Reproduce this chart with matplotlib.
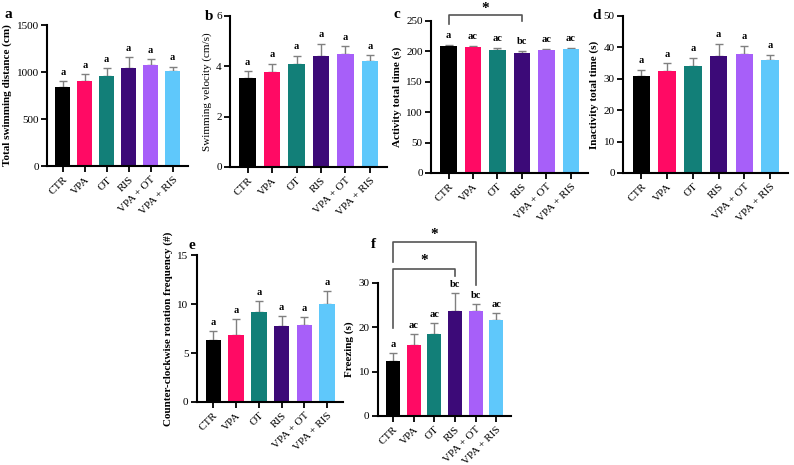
import numpy as np
import matplotlib
matplotlib.use("Agg")
import matplotlib.pyplot as plt

plt.rcParams['font.family'] = ['Liberation Serif', 'DejaVu Serif']

groups = ["CTR", "VPA", "OT", "RIS", "VPA + OT", "VPA + RIS"]
colors = ["#000000", "#ff0a64", "#127f78", "#3c0a78", "#a75ff9", "#5fc8fb"]

dist_mean = [845, 903, 958, 1047, 1072, 1008]
dist_err = [58, 75, 82, 115, 70, 50]
dist_sig = ["a", "a", "a", "a", "a", "a"]

vel_mean = [3.54, 3.77, 4.07, 4.40, 4.49, 4.22]
vel_err = [0.25, 0.33, 0.34, 0.48, 0.30, 0.22]
vel_sig = ["a", "a", "a", "a", "a", "a"]

act_mean = [209, 207, 203, 198, 202, 204.5]
act_err = [1.5, 2.0, 2.6, 2.7, 2.5, 1.5]
act_sig = ["a", "ac", "ac", "bc", "ac", "ac"]

inact_mean = [30.7, 32.4, 34.0, 37.2, 37.9, 35.9]
inact_err = [2.0, 2.5, 2.7, 3.9, 2.6, 1.7]
inact_sig = ["a", "a", "a", "a", "a", "a"]

rot_mean = [6.28, 6.85, 9.18, 7.78, 7.85, 10.0]
rot_err = [0.95, 1.6, 1.1, 1.0, 0.8, 1.33]
rot_sig = ["a", "a", "a", "a", "a", "a"]

frz_mean = [12.3, 16.1, 18.5, 23.6, 23.6, 21.6]
frz_err = [2.0, 2.5, 2.5, 4.1, 1.7, 1.6]
frz_sig = ["a", "ac", "ac", "bc", "bc", "ac"]

fig = plt.figure(figsize=(7.94, 4.65), dpi=100)


def panel(rect, mean, err, sig, ymax, step, ylabel, letter, lbold=True, letter_xy=(-0.3, 1.02)):
    ax = fig.add_axes(rect)
    x = np.arange(len(groups))
    ax.bar(x, mean, width=0.68, color=colors, zorder=2)
    ax.errorbar(x, mean, yerr=[np.zeros(len(err)), err], fmt="none",
                ecolor="#808080", elinewidth=1, capsize=3, capthick=1, zorder=1)
    for i in range(len(groups)):
        ax.text(x[i], mean[i] + err[i] + ymax * 0.03, sig[i], ha="center", va="bottom",
                fontsize=7.5, fontweight="bold")
    ax.set_xlim(-0.72, 5.7)
    ax.set_ylim(0, ymax)
    ax.set_yticks(np.arange(0, ymax + step / 2, step))
    ax.set_xticks(x)
    ax.set_xticklabels(groups, rotation=45, ha="right", rotation_mode="anchor", fontsize=8)
    ax.tick_params(axis="y", labelsize=8, width=1.3, length=4, pad=2)
    ax.tick_params(axis="x", width=1.3, length=4, pad=2.5)
    for s in ["top", "right"]:
        ax.spines[s].set_visible(False)
    for s in ["left", "bottom"]:
        ax.spines[s].set_linewidth(1.5)
    ax.set_ylabel(ylabel, fontsize=8, fontweight="bold" if lbold else "normal", labelpad=3)
    ax.text(letter_xy[0], letter_xy[1], letter, transform=ax.transAxes, fontsize=11,
            fontweight="bold", ha="left", va="bottom")
    return ax


def bracket(ax, x1, x2, y, y1, y2, star_y):
    ax.plot([x1, x1, x2, x2], [y1, y, y, y2], color="#555555", lw=1.2, clip_on=False)
    ax.text((x1 + x2) / 2, star_y, "*", ha="center", va="center", fontsize=11,
            fontweight="bold")


axa = panel([0.0592, 0.643, 0.1776, 0.303], dist_mean, dist_err, dist_sig, 1500, 500,
            "Total swimming distance (cm)", "a", letter_xy=(-0.3, 1.03))
axb = panel([0.2897, 0.641, 0.1977, 0.325], vel_mean, vel_err, vel_sig, 6, 2,
            "Swimming velocity (cm/s)", "b", lbold=False, letter_xy=(-0.16, 0.95))
axc = panel([0.5428, 0.628, 0.1977, 0.327], act_mean, act_err, act_sig, 250, 50,
            "Activity total time (s)", "c", letter_xy=(-0.24, 1.0))
axd = panel([0.7846, 0.628, 0.2078, 0.338], inact_mean, inact_err, inact_sig, 50, 10,
            "Inactivity total time (s)", "d", letter_xy=(-0.185, 0.96))
axe = panel([0.248, 0.1355, 0.184, 0.316], rot_mean, rot_err, rot_sig, 15, 5,
            "Counter-clockwise rotation frequency (#)", "e", letter_xy=(-0.06, 1.02))
axf = panel([0.476, 0.1054, 0.1675, 0.286], frz_mean, frz_err, frz_sig, 30, 10,
            "Freezing (s)", "f", letter_xy=(-0.05, 1.24))

bracket(axc, 0, 3, 259, 245.5, 250, 270)
bracket(axf, 0, 4, 39.2, 34.7, 29.5, 41.0)
bracket(axf, 0, 3, 33.1, 19.8, 31.6, 35.0)

fig.savefig("out.png", dpi=100)
